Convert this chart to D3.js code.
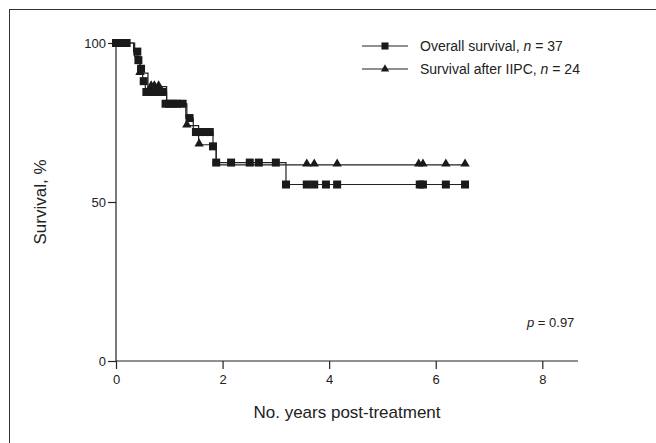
<!DOCTYPE html>
<html><head><meta charset="utf-8">
<script src="https://cdn.jsdelivr.net/npm/d3@7"></script>
<style>body{margin:0;background:#fff}svg{display:block}text{font-family:"Liberation Sans",Arial,sans-serif;fill:#222}</style>
</head><body><svg id="c" width="656" height="443"></svg>
<script>
// Kaplan-Meier steps: [time (years), survival %]
const overallSteps = [[0,100],[0.33,97.3],[0.40,94.6],[0.45,91.9],[0.50,88.0],[0.55,84.6],[0.95,80.9],[1.31,76.4],[1.45,72.0],[1.82,67.5],[1.88,62.4],[3.19,55.5],[6.57,55.5]];
const iipcSteps = [[0,100],[0.35,95.8],[0.45,90.5],[0.60,86.3],[0.95,80.9],[1.33,74.0],[1.55,68.0],[1.88,61.7],[6.57,61.7]];
// censor marks
const overallCensor = [[0.0,100],[0.05,100],[0.10,100],[0.15,100],[0.20,100],[0.40,97.3],[0.42,94.6],[0.47,91.9],[0.52,88.0],[0.57,84.6],[0.65,84.6],[0.72,84.6],[0.80,84.6],[0.88,84.6],[0.93,80.9],[1.0,80.9],[1.08,80.9],[1.15,80.9],[1.25,80.9],[1.38,76.4],[1.50,72.0],[1.58,72.0],[1.68,72.0],[1.76,72.0],[1.82,67.5],[1.88,62.4],[2.16,62.4],[2.51,62.4],[2.68,62.4],[3.00,62.4],[3.19,55.5],[3.58,55.5],[3.72,55.5],[3.94,55.5],[4.15,55.5],[5.70,55.5],[5.76,55.5],[6.19,55.5],[6.55,55.5]];
const iipcCensor = [[0.45,90.5],[0.66,86.3],[0.72,86.3],[0.80,86.3],[1.33,74.0],[1.56,68.0],[3.58,61.7],[3.72,61.7],[4.15,61.7],[5.68,61.7],[5.76,61.7],[6.19,61.7],[6.55,61.7]];
const xTicks = [0,2,4,6,8];
const yTicks = [0,50,100];
const legendLabels = [["Overall survival, ","37"],["Survival after IIPC, ","24"]];
const pText = "0.97";

const svg = d3.select("#c");
svg.append("rect").attr("x",9.5).attr("y",9.5).attr("width",700).attr("height",600).attr("fill","none").attr("stroke","#333").attr("stroke-width",1);

const x = d3.scaleLinear().domain([0,8.67]).range([116,578]);
const y = d3.scaleLinear().domain([0,100]).range([361,43]);

const xa = svg.append("g").attr("transform","translate(0,361)")
  .call(d3.axisBottom(x).tickValues(xTicks).tickSize(8).tickPadding(6).tickFormat(d3.format("d")));
xa.select(".domain").attr("d","M"+x(0)+",0H578");
const ya = svg.append("g").attr("transform","translate(116,0)")
  .call(d3.axisLeft(y).tickValues(yTicks).tickSize(8).tickPadding(2));
ya.select(".domain").attr("d","M0,"+y(100)+"V"+y(0));
[xa,ya].forEach(g=>{g.selectAll("path,line").attr("stroke","#222").attr("stroke-width",1.2);
  g.selectAll("text").style("font-size","13px").attr("fill","#222");});
ya.selectAll("text").attr("dy","0.35em");

const line = d3.line().x(d=>x(d[0])).y(d=>y(d[1])).curve(d3.curveStepAfter);
[overallSteps, iipcSteps].forEach(s=>{
  svg.append("path").datum(s).attr("d",line).attr("fill","none").attr("stroke","#222").attr("stroke-width",1.2);
});
const sq = d3.symbol().type(d3.symbolSquare).size(64);
const tri = d3.symbol().type(d3.symbolTriangle).size(38);
svg.append("g").selectAll("path").data(overallCensor).join("path")
  .attr("d",sq).attr("transform",d=>`translate(${x(d[0])},${y(d[1])})`).attr("fill","#1a1a1a");
svg.append("g").selectAll("path").data(iipcCensor).join("path")
  .attr("d",tri).attr("transform",d=>`translate(${x(d[0])},${y(d[1])-1})`).attr("fill","#1a1a1a");

// legend
legendLabels.forEach((l,i)=>{
  const yy = 46 + i*23;
  svg.append("line").attr("x1",362).attr("x2",408).attr("y1",yy).attr("y2",yy).attr("stroke","#222").attr("stroke-width",1.2);
  svg.append("path").attr("d", i===0? d3.symbol().type(d3.symbolSquare).size(50)() : d3.symbol().type(d3.symbolTriangle).size(30)())
    .attr("transform",`translate(385,${yy})`).attr("fill","#1a1a1a");
  const t = svg.append("text").attr("x",420).attr("y",yy+5).style("font-size","14px");
  t.append("tspan").text(l[0]);
  t.append("tspan").attr("font-style","italic").text("n");
  t.append("tspan").text(" = "+l[1]);
});
const pt = svg.append("text").attr("x",527).attr("y",327).style("font-size","13px");
pt.append("tspan").attr("font-style","italic").text("p");
pt.append("tspan").text(" = "+pText);

svg.append("text").attr("x",347).attr("y",418).attr("text-anchor","middle").style("font-size","17px").text("No. years post-treatment");
svg.append("text").attr("transform","translate(46,202) rotate(-90)").attr("text-anchor","middle").style("font-size","17px").text("Survival, %");
</script></body></html>
